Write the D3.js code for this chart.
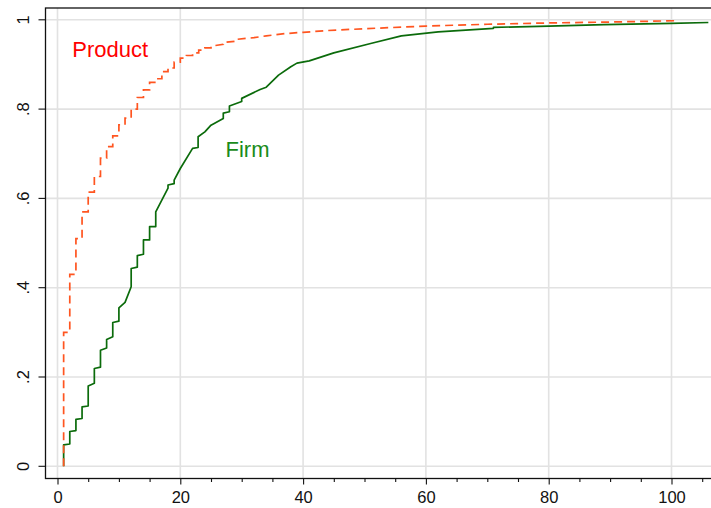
<!DOCTYPE html>
<html>
<head>
<meta charset="utf-8">
<script src="https://cdn.jsdelivr.net/npm/d3@7"></script>
<style>
  html, body { margin: 0; padding: 0; background: #fff; overflow: hidden; }
  svg { display: block; font-family: "Liberation Sans", Arial, sans-serif; }
</style>
</head>
<body>
<div id="chart"></div>
<script>
// Cumulative share of exits by age
const productX = [1, 1, 2, 2, 3, 3, 4, 4, 5, 5, 6, 6, 7, 7, 8, 8, 9, 9, 10, 10, 11, 11, 12, 12, 13, 13,
  14, 14, 15, 15, 16, 16, 17, 17, 18, 18, 19, 19, 20, 20, 21, 21, 22, 22, 23, 23, 24, 24, 25, 25,
  27, 27, 29, 29, 32, 34, 37, 40, 44, 50, 60, 70, 80, 90, 101];
const productY = [0, 0.30, 0.30, 0.43, 0.43, 0.51, 0.51, 0.57, 0.57, 0.614, 0.614, 0.649, 0.649, 0.69,
  0.69, 0.716, 0.716, 0.74, 0.74, 0.765, 0.765, 0.78, 0.78, 0.80, 0.80, 0.826, 0.826, 0.843, 0.843,
  0.86, 0.86, 0.868, 0.868, 0.884, 0.884, 0.892, 0.892, 0.905, 0.905, 0.914, 0.914, 0.92, 0.92,
  0.926, 0.926, 0.932, 0.932, 0.937, 0.937, 0.941, 0.945, 0.949, 0.952, 0.956, 0.96, 0.964, 0.969,
  0.972, 0.976, 0.98, 0.986, 0.99, 0.993, 0.995, 0.998];

const firmX = [1, 1, 2, 2, 3, 3, 4, 4, 5, 5, 6, 6, 7, 7, 8, 8, 9, 9, 10, 10, 11, 12, 12, 13, 13, 14, 14,
  15, 15, 16, 16, 18, 18, 19, 19, 20, 22, 22.9, 22.9, 24, 25, 27, 27, 28, 28, 30, 30, 33, 34, 36,
  38, 39, 41, 45, 51, 56, 62, 71, 71, 80, 89, 100, 106];
const firmY = [0, 0.048, 0.05, 0.078, 0.08, 0.105, 0.107, 0.133, 0.135, 0.18, 0.186, 0.219, 0.222, 0.26,
  0.265, 0.284, 0.29, 0.322, 0.325, 0.355, 0.367, 0.402, 0.443, 0.446, 0.472, 0.475, 0.507, 0.507,
  0.537, 0.537, 0.57, 0.623, 0.63, 0.633, 0.641, 0.667, 0.712, 0.714, 0.738, 0.749, 0.764, 0.779,
  0.791, 0.794, 0.807, 0.817, 0.824, 0.844, 0.849, 0.876, 0.895, 0.903, 0.908, 0.926, 0.947,
  0.964, 0.973, 0.981, 0.983, 0.986, 0.989, 0.992, 0.994];

const xMajorTicks = [0, 20, 40, 60, 80, 100];
const xMinorTicks = d3.range(5, 106, 5).filter(v => v % 20 !== 0);
const yTicks = [0, 0.2, 0.4, 0.6, 0.8, 1];
const yTickLabels = ['0', '.2', '.4', '.6', '.8', '1'];

const W = 711, H = 508;
const frame = { left: 45.5, top: 8, right: 730, bottom: 478.5 };

const svg = d3.select('#chart').append('svg')
  .attr('width', W)
  .attr('height', H);

const x = d3.scaleLinear().domain([0, 100]).range([57.5, 671.5]);
const y = d3.scaleLinear().domain([0, 1]).range([466.3, 19.8]);

// Grid
svg.append('g').selectAll('line')
  .data(yTicks)
  .join('line')
  .attr('x1', frame.left).attr('x2', frame.right)
  .attr('y1', d => y(d)).attr('y2', d => y(d))
  .attr('stroke', '#e2e2e2').attr('stroke-width', 1.6);

svg.append('g').selectAll('line')
  .data(xMajorTicks)
  .join('line')
  .attr('x1', d => x(d)).attr('x2', d => x(d))
  .attr('y1', frame.top).attr('y2', frame.bottom)
  .attr('stroke', '#e2e2e2').attr('stroke-width', 1.6);

// Plot frame
svg.append('rect')
  .attr('x', frame.left).attr('y', frame.top)
  .attr('width', frame.right - frame.left)
  .attr('height', frame.bottom - frame.top)
  .attr('fill', 'none')
  .attr('stroke', '#111').attr('stroke-width', 1.3);

// X axis
const xAxis = svg.append('g')
  .attr('transform', `translate(0,${frame.bottom})`)
  .call(d3.axisBottom(x).tickValues(xMajorTicks).tickSize(6).tickPadding(7).tickFormat(d3.format('d')));
xAxis.select('.domain').remove();
xAxis.selectAll('line').attr('stroke', '#111').attr('stroke-width', 1.1);
xAxis.selectAll('text')
  .attr('fill', '#111')
  .style('font-size', '16.5px')
  .style('font-family', '"Liberation Sans", Arial, sans-serif');

svg.append('g')
  .attr('transform', `translate(0,${frame.bottom})`)
  .call(d3.axisBottom(x).tickValues(xMinorTicks).tickSize(3.5).tickFormat(''))
  .call(g => g.select('.domain').remove())
  .selectAll('line').attr('stroke', '#111').attr('stroke-width', 1.1);

// Y axis
const yAxis = svg.append('g')
  .attr('transform', `translate(${frame.left},0)`)
  .call(d3.axisLeft(y).tickValues(yTicks).tickSize(7).tickFormat((d, i) => yTickLabels[i]));
yAxis.select('.domain').remove();
yAxis.selectAll('line').attr('stroke', '#111').attr('stroke-width', 1.1);
yAxis.selectAll('text')
  .attr('x', null).attr('dy', null)
  .attr('fill', '#111')
  .attr('text-anchor', 'middle')
  .attr('transform', d => `translate(-16.5,${y(d)}) rotate(-90)`)
  .attr('y', null)
  .style('font-size', '16.5px')
  .style('font-family', '"Liberation Sans", Arial, sans-serif');
yAxis.selectAll('.tick').attr('transform', null);
yAxis.selectAll('.tick line')
  .attr('y1', d => y(d)).attr('y2', d => y(d));

// Lines
const line = d3.line()
  .x(d => x(d[0]))
  .y(d => y(d[1]));

svg.append('path')
  .datum(firmX.map((v, i) => [v, firmY[i]]))
  .attr('fill', 'none')
  .attr('stroke', '#0b6b0b')
  .attr('stroke-width', 1.7)
  .attr('stroke-linejoin', 'round')
  .attr('d', line);

svg.append('path')
  .datum(productX.map((v, i) => [v, productY[i]]))
  .attr('fill', 'none')
  .attr('stroke', '#ff5520')
  .attr('stroke-width', 1.7)
  .attr('stroke-dasharray', '8,5')
  .attr('d', line);

// Labels
svg.append('text')
  .attr('x', 72.3).attr('y', 57.3)
  .attr('fill', '#ff0000')
  .style('font-size', '22px')
  .text('Product');

svg.append('text')
  .attr('x', 225.5).attr('y', 156.7)
  .attr('fill', '#1a8c1a')
  .style('font-size', '22px')
  .text('Firm');
</script>
</body>
</html>
